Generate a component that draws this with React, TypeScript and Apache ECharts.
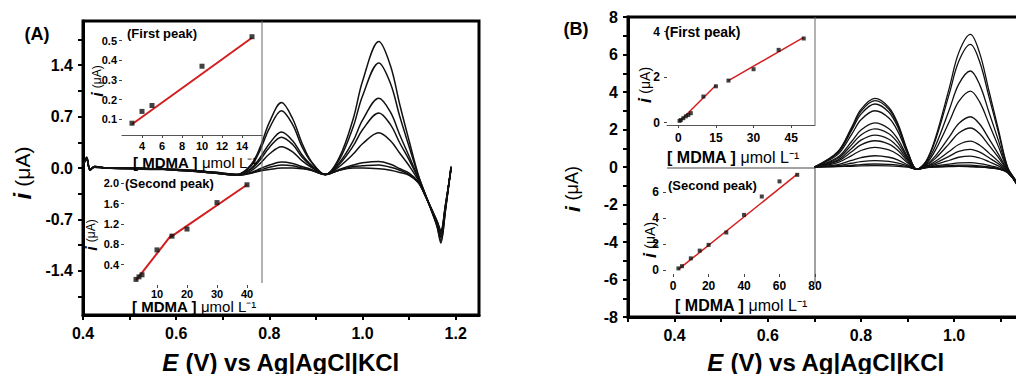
import React, { useEffect, useRef } from 'react';
import * as echarts from 'echarts';

const FONT = '"Liberation Sans", Arial, Helvetica, sans-serif';

// ---------- Panel A : main voltammograms ----------
const A_E = [0.40, 0.408, 0.415, 0.425, 0.45, 0.50, 0.55, 0.60, 0.65, 0.70, 0.73, 0.76, 0.78, 0.80, 0.826, 0.85, 0.87, 0.89, 0.92, 0.95, 0.98, 1.00, 1.035, 1.06, 1.08, 1.10, 1.12, 1.135, 1.15, 1.16, 1.168, 1.178, 1.19];
const A_I1 = [0.05, 0.15, -0.03, 0.02, 0.00, 0.00, -0.01, -0.02, -0.04, -0.07, -0.09, 0.04, 0.28, 0.62, 0.89, 0.67, 0.34, 0.09, -0.09, 0.14, 0.67, 1.18, 1.72, 1.39, 0.86, 0.37, -0.10, -0.36, -0.62, -0.80, -1.02, -0.58, 0.02];
const A_I2 = [0.05, 0.14, -0.03, 0.02, 0.00, 0.00, -0.01, -0.02, -0.04, -0.07, -0.09, 0.02, 0.24, 0.54, 0.78, 0.59, 0.29, 0.08, -0.09, 0.11, 0.56, 0.98, 1.43, 1.15, 0.70, 0.29, -0.11, -0.36, -0.61, -0.79, -0.99, -0.57, 0.02];
const A_I3 = [0.04, 0.14, -0.02, 0.02, 0.00, -0.01, -0.01, -0.02, -0.04, -0.07, -0.09, -0.01, 0.14, 0.33, 0.49, 0.37, 0.18, 0.04, -0.09, 0.07, 0.37, 0.65, 0.95, 0.76, 0.45, 0.16, -0.14, -0.37, -0.60, -0.77, -0.95, -0.55, 0.01];
const A_I4 = [0.04, 0.13, -0.03, 0.02, 0.00, -0.01, -0.02, -0.02, -0.04, -0.08, -0.09, -0.02, 0.11, 0.28, 0.42, 0.32, 0.15, 0.03, -0.09, 0.05, 0.30, 0.52, 0.75, 0.59, 0.34, 0.11, -0.15, -0.37, -0.60, -0.76, -0.93, -0.54, 0.00];
const A_I5 = [0.05, 0.13, -0.02, 0.02, 0.00, 0.00, -0.01, -0.02, -0.05, -0.08, -0.10, -0.04, 0.06, 0.19, 0.29, 0.22, 0.10, 0.01, -0.09, 0.02, 0.19, 0.33, 0.48, 0.37, 0.20, 0.03, -0.17, -0.38, -0.60, -0.75, -0.90, -0.53, 0.00];
const A_I6 = [0.05, 0.12, -0.02, 0.01, 0.00, 0.00, -0.01, -0.03, -0.05, -0.08, -0.10, -0.06, -0.01, 0.04, 0.08, 0.06, 0.02, -0.02, -0.09, -0.02, 0.04, 0.07, 0.09, 0.05, -0.01, -0.07, -0.19, -0.38, -0.60, -0.74, -0.88, -0.52, -0.01];
const A_I7 = [0.04, 0.12, -0.02, 0.01, 0.00, 0.00, -0.01, -0.03, -0.05, -0.08, -0.10, -0.07, -0.03, 0.01, 0.04, 0.03, 0.00, -0.03, -0.09, -0.03, 0.02, 0.03, 0.04, 0.01, -0.03, -0.09, -0.20, -0.38, -0.59, -0.73, -0.86, -0.50, -0.01];
const A_I8 = [0.04, 0.11, -0.02, 0.01, 0.00, -0.01, -0.01, -0.03, -0.05, -0.08, -0.10, -0.07, -0.04, -0.02, 0.00, 0.00, -0.01, -0.03, -0.09, -0.03, 0.00, 0.00, -0.01, -0.03, -0.06, -0.10, -0.20, -0.38, -0.58, -0.72, -0.85, -0.50, -0.02];
const A_CURVES = [A_I1, A_I2, A_I3, A_I4, A_I5, A_I6, A_I7, A_I8];
const A_XTICKS = [0.4, 0.5, 0.6, 0.7, 0.8, 0.9, 1.0, 1.1, 1.2];
const A_XLABELS = [0.4, 0.6, 0.8, 1.0, 1.2];
const A_YTICKS = [-1.75, -1.4, -1.05, -0.7, -0.35, 0, 0.35, 0.7, 1.05, 1.4, 1.75];
const A_YLABELS = [-1.4, -0.7, 0, 0.7, 1.4];

// Panel A insets
const A1_CONC = [3, 4, 5, 10, 15];
const A1_I = [0.08, 0.14, 0.17, 0.37, 0.52];
const A1_FIT = [[3, 0.075], [15, 0.515]];
const A1_XLABELS = [4, 6, 8, 10, 12, 14];
const A1_YLABELS = [0.1, 0.2, 0.3, 0.4, 0.5];

const A2_CONC = [3, 4, 5, 10, 15, 20, 30, 40];
const A2_I = [0.11, 0.16, 0.2, 0.69, 0.96, 1.1, 1.62, 1.97];
const A2_FIT1 = [[3, 0.09], [15, 1.0]];
const A2_FIT2 = [[14, 0.92], [40, 1.97]];
const A2_XLABELS = [10, 20, 30, 40];
const A2_YLABELS = [0.4, 0.8, 1.2, 1.6, 2.0];

// ---------- Panel B : main voltammograms ----------
const B_E = [0.70, 0.75, 0.78, 0.80, 0.83, 0.86, 0.88, 0.90, 0.92, 0.94, 0.96, 0.99, 1.01, 1.035, 1.055, 1.075, 1.095, 1.115, 1.135, 1.15];
const B_I1 = [0, 0.81, 2.12, 3.07, 3.66, 3.18, 2.27, 0.86, -0.12, 0.32, 1.56, 4.25, 6.10, 7.07, 6.06, 4.04, 2.01, -0.02, -0.85, -1.9];
const B_I2 = [0, 0.78, 2.05, 2.97, 3.54, 3.08, 2.19, 0.83, -0.12, 0.30, 1.44, 3.94, 5.64, 6.54, 5.60, 3.73, 1.85, -0.04, -0.86, -1.9];
const B_I3 = [0, 0.74, 1.95, 2.82, 3.36, 2.92, 2.08, 0.79, -0.12, 0.23, 1.13, 3.08, 4.42, 5.12, 4.38, 2.91, 1.42, -0.09, -0.87, -1.95];
const B_I4 = [0, 0.66, 1.74, 2.52, 3.00, 2.61, 1.86, 0.70, -0.12, 0.17, 0.90, 2.44, 3.50, 4.05, 3.46, 2.29, 1.10, -0.14, -0.88, -1.95];
const B_I5 = [0, 0.52, 1.36, 1.97, 2.35, 2.04, 1.46, 0.54, -0.12, 0.11, 0.59, 1.62, 2.32, 2.68, 2.28, 1.50, 0.69, -0.19, -0.89, -2.0];
const B_I6 = [0, 0.45, 1.18, 1.71, 2.03, 1.77, 1.26, 0.47, -0.12, 0.08, 0.46, 1.26, 1.81, 2.08, 1.77, 1.15, 0.51, -0.22, -0.9, -2.0];
const B_I7 = [0, 0.37, 0.99, 1.43, 1.70, 1.48, 1.05, 0.39, -0.12, 0.04, 0.31, 0.84, 1.20, 1.38, 1.16, 0.74, 0.30, -0.24, -0.9, -2.0];
const B_I8 = [0, 0.31, 0.81, 1.18, 1.40, 1.22, 0.87, 0.32, -0.12, 0.02, 0.21, 0.58, 0.83, 0.94, 0.79, 0.49, 0.17, -0.26, -0.92, -2.05];
const B_I9 = [0, 0.23, 0.61, 0.88, 1.05, 0.91, 0.65, 0.23, -0.12, 0.00, 0.13, 0.36, 0.52, 0.58, 0.48, 0.28, 0.06, -0.28, -0.93, -2.05];
const B_I10 = [0, 0.13, 0.35, 0.50, 0.60, 0.52, 0.37, 0.12, -0.12, -0.02, 0.06, 0.15, 0.22, 0.23, 0.18, 0.08, -0.04, -0.29, -0.94, -2.1];
const B_I11 = [0, 0.07, 0.20, 0.29, 0.34, 0.30, 0.21, 0.06, -0.12, -0.03, 0.03, 0.07, 0.10, 0.10, 0.06, 0.00, -0.08, -0.30, -0.95, -2.1];
const B_I12 = [0, 0.04, 0.09, 0.13, 0.16, 0.14, 0.10, 0.02, -0.12, -0.03, 0.01, 0.04, 0.05, 0.04, 0.01, -0.04, -0.10, -0.30, -0.95, -2.1];
const B_I13 = [0, 0.02, 0.04, 0.06, 0.07, 0.06, 0.04, -0.01, -0.12, -0.03, 0.00, 0.02, 0.03, 0.01, -0.01, -0.05, -0.11, -0.30, -0.96, -2.1];
const B_CURVES = [B_I1, B_I2, B_I3, B_I4, B_I5, B_I6, B_I7, B_I8, B_I9, B_I10, B_I11, B_I12, B_I13];
const B_XTICKS = [0.3, 0.4, 0.5, 0.6, 0.7, 0.8, 0.9, 1.0, 1.1];
const B_XLABELS = [0.4, 0.6, 0.8, 1.0];
const B_YTICKS = [-8, -7, -6, -5, -4, -3, -2, -1, 0, 1, 2, 3, 4, 5, 6, 7, 8];
const B_YLABELS = [-8, -6, -4, -2, 0, 2, 4, 6, 8];

// Panel B insets
const B1_CONC = [0.5, 1, 2, 3, 4, 5, 10, 15, 20, 30, 40, 50];
const B1_I = [0.08, 0.12, 0.2, 0.28, 0.34, 0.42, 1.15, 1.6, 1.85, 2.35, 3.2, 3.7];
const B1_FIT1 = [[0.5, 0.05], [15, 1.65]];
const B1_FIT2 = [[20, 1.85], [50, 3.75]];
const B1_XLABELS = [0, 15, 30, 45];
const B1_YLABELS = [0, 2, 4];

const B2_CONC = [3, 5, 10, 15, 20, 30, 40, 50, 60, 70];
const B2_I = [0.13, 0.3, 0.9, 1.49, 1.93, 2.88, 4.23, 5.64, 6.8, 7.3];
const B2_FIT = [[3, 0.05], [70, 7.35]];
const B2_XLABELS = [0, 20, 40, 60, 80];
const B2_YLABELS = [0, 2, 4, 6];

// ---------- layout ----------
const GA = { left: 83, top: 21, width: 396, height: 294 };
const GA1 = { left: 122, top: 21, width: 140, height: 114 };
const GA2 = { left: 124, top: 168, width: 138, height: 117 };
const GB = { left: 628, top: 17, width: 396, height: 300 };
const GB1 = { left: 667, top: 18, width: 148, height: 107 };
const GB2 = { left: 666, top: 167, width: 149, height: 107 };

const fix1 = (v: number) => v.toFixed(1);

function mainX(grid: number, min: number, max: number, ticks: number[], labels: number[], gap: number) {
  return {
    gridIndex: grid, type: 'value', min, max,
    axisLine: { show: true, onZero: false, lineStyle: { color: '#000', width: 3 } },
    axisTick: { show: true, inside: false, length: 5, lineStyle: { color: '#000', width: 2 }, customValues: ticks },
    axisLabel: { customValues: labels, formatter: fix1, margin: 10, fontSize: 16, fontWeight: 'bold', fontFamily: FONT, color: '#000' },
    splitLine: { show: false },
    name: '{i|E} (V) vs Ag|AgCl|KCl', nameLocation: 'middle', nameGap: gap,
    nameTextStyle: {
      fontSize: 24, fontWeight: 'bold', fontFamily: FONT, color: '#000',
      rich: { i: { fontSize: 24, fontWeight: 'bold', fontStyle: 'italic', fontFamily: FONT, color: '#000' } },
    },
  };
}
function mainY(grid: number, min: number, max: number, ticks: number[], labels: number[], fmt: any) {
  return {
    gridIndex: grid, type: 'value', min, max,
    axisLine: { show: true, onZero: false, lineStyle: { color: '#000', width: 3 } },
    axisTick: { show: true, inside: false, length: 5, lineStyle: { color: '#000', width: 2 }, customValues: ticks },
    axisLabel: { customValues: labels, formatter: fmt, margin: 10, fontSize: 16, fontWeight: 'bold', fontFamily: FONT, color: '#000' },
    splitLine: { show: false },
  };
}
function insetAxis(grid: number, min: number, max: number, labels: number[], opts: any) {
  return {
    gridIndex: grid, type: 'value', min, max,
    axisLine: { show: !!opts.line, onZero: false, lineStyle: { color: '#555', width: 1 } },
    axisTick: { show: true, inside: false, length: 3, lineStyle: { color: '#444', width: 1 }, customValues: labels },
    axisLabel: { customValues: labels, formatter: opts.fmt || ((v: number) => String(v)), margin: opts.margin, fontSize: opts.size, fontWeight: 'bold', fontFamily: FONT, color: '#000' },
    splitLine: { show: false },
  };
}

function lineSeries(x: number, y: number, E: number[], vals: number[], width: number) {
  return {
    type: 'line', xAxisIndex: x, yAxisIndex: y, data: E.map((e, i) => [e, vals[i]]),
    symbol: 'none', smooth: 0.35, silent: true, lineStyle: { color: '#111', width }, z: 2,
  };
}
function fitSeries(x: number, y: number, pts: number[][], width: number) {
  return { type: 'line', xAxisIndex: x, yAxisIndex: y, data: pts, symbol: 'none', silent: true, lineStyle: { color: '#d21e1e', width }, z: 3 };
}
function dotSeries(x: number, y: number, conc: number[], vals: number[], size: number) {
  return { type: 'scatter', xAxisIndex: x, yAxisIndex: y, data: conc.map((c, i) => [c, vals[i]]), symbol: 'rect', symbolSize: size, silent: true, itemStyle: { color: '#111' }, z: 4 };
}

function txt(x: number, y: number, text: string, size: number, align: string, rich?: any, rotation?: number, weight = 'bold') {
  return {
    type: 'text', x, y, rotation: rotation || 0, silent: true, z: 10,
    style: {
      text, fill: '#000', fontSize: size, fontWeight: weight, fontFamily: FONT,
      textAlign: align, align, textVerticalAlign: 'middle', verticalAlign: 'middle', rich,
    },
  };
}
const concRich = (size: number) => ({
  b: { fontSize: size, fontWeight: 'bold', fontFamily: FONT, fill: '#000', color: '#000' },
  n: { fontSize: size, fontWeight: 'normal', fontFamily: FONT, fill: '#000', color: '#000' },
});
const iRich = (iSize: number, uSize: number) => ({
  i: { fontSize: iSize, fontWeight: 'bold', fontStyle: 'italic', fontFamily: FONT, fill: '#000', color: '#000' },
  n: { fontSize: uSize, fontWeight: 'normal', fontFamily: FONT, fill: '#000', color: '#000' },
});
const CONC_TEXT = '{b|[ MDMA ]} {n|\u03bcmol L\u207b\u00b9}';
const I_TEXT = '{i|i} {n|(\u03bcA)}';

function vline(x: number, y1: number, y2: number, color = '#666') {
  return { type: 'line', silent: true, z: 5, shape: { x1: x, y1, x2: x, y2 }, style: { stroke: color, lineWidth: 1 } };
}
function hline(y: number, x1: number, x2: number, color = '#666') {
  return { type: 'line', silent: true, z: 5, shape: { x1, y1: y, x2, y2: y }, style: { stroke: color, lineWidth: 1 } };
}

const gridOf = (g: any, main: boolean) => ({
  ...g, show: main, borderColor: '#000', borderWidth: main ? 3 : 0, containLabel: false, outerBoundsMode: 'none',
});

export default function App() {
  const ref = useRef<HTMLDivElement>(null);
  useEffect(() => {
    const chart = echarts.init(ref.current!, null, { renderer: 'svg' });
    const option: any = {
      animation: false,
      backgroundColor: '#fff',
      grid: [
        gridOf(GA, true),
        gridOf(GA1, false),
        gridOf(GA2, false),
        gridOf(GB, true),
        gridOf(GB1, false),
        gridOf(GB2, false),
      ],
      xAxis: [
        mainX(0, 0.4, 1.25, A_XTICKS, A_XLABELS, 35),
        insetAxis(1, 2, 16, A1_XLABELS, { line: true, margin: 5, size: 11 }),
        insetAxis(2, -1, 45, A2_XLABELS, { line: false, margin: 3, size: 11 }),
        mainX(3, 0.3, 1.15, B_XTICKS, B_XLABELS, 33),
        insetAxis(4, -4.5, 54.5, B1_XLABELS, { line: true, margin: 7, size: 12 }),
        insetAxis(5, -4, 80, B2_XLABELS, { line: false, margin: 6, size: 12 }),
      ],
      yAxis: [
        mainY(0, -2, 2, A_YTICKS, A_YLABELS, fix1),
        insetAxis(1, 0.02, 0.6, A1_YLABELS, { line: false, margin: 5, size: 11, fmt: fix1 }),
        insetAxis(2, 0, 2.3, A2_YLABELS, { line: false, margin: 5, size: 11, fmt: fix1 }),
        mainY(3, -8, 8, B_YTICKS, B_YLABELS, (v: number) => String(v)),
        insetAxis(4, -0.1, 4.6, B1_YLABELS, { line: false, margin: 7, size: 12 }),
        insetAxis(5, -0.3, 7.9, B2_YLABELS, { line: false, margin: 7, size: 12 }),
      ],
      series: [
        ...A_CURVES.map((c) => lineSeries(0, 0, A_E, c, 1.5)),
        fitSeries(1, 1, A1_FIT, 2),
        dotSeries(1, 1, A1_CONC, A1_I, 5),
        fitSeries(2, 2, A2_FIT1, 2),
        fitSeries(2, 2, A2_FIT2, 2),
        dotSeries(2, 2, A2_CONC, A2_I, 5),
        ...B_CURVES.map((c) => lineSeries(3, 3, B_E, c, 1.3)),
        fitSeries(4, 4, B1_FIT1, 1.5),
        fitSeries(4, 4, B1_FIT2, 1.5),
        dotSeries(4, 4, B1_CONC, B1_I, 4),
        fitSeries(5, 5, B2_FIT, 1.5),
        dotSeries(5, 5, B2_CONC, B2_I, 4),
      ],
      graphic: [
        txt(37, 34, '(A)', 18, 'center'),
        txt(576, 29, '(B)', 18, 'center'),
        txt(127, 33, '(First peak)', 13, 'left'),
        txt(125, 183, '(Second peak)', 13, 'left'),
        txt(665, 32, '(First peak)', 14, 'left'),
        txt(668, 185, '(Second peak)', 13, 'left'),
        txt(195, 162, CONC_TEXT, 15, 'center', concRich(15)),
        txt(194, 306, CONC_TEXT, 15, 'center', concRich(15)),
        txt(733, 157, CONC_TEXT, 16, 'center', concRich(16)),
        txt(741, 305, CONC_TEXT, 16, 'center', concRich(16)),
        txt(97, 81, I_TEXT, 14, 'center', iRich(16, 12), Math.PI / 2),
        txt(91, 235, I_TEXT, 14, 'center', iRich(16, 12), Math.PI / 2),
        txt(645, 85, I_TEXT, 16, 'center', iRich(18, 14), Math.PI / 2),
        txt(650, 240, I_TEXT, 16, 'center', iRich(18, 14), Math.PI / 2),
        txt(22, 173, I_TEXT, 22, 'center', iRich(24, 21), Math.PI / 2),
        txt(572, 189, I_TEXT, 20, 'center', iRich(21, 18), Math.PI / 2),
        vline(GA1.left + GA1.width, GA.top, GA2.top + GA2.height - 2),
        vline(GB1.left + GB1.width, GB.top, GB1.top + GB1.height),
        hline(GB2.top + 1, GB2.left + 1, GB2.left + GB2.width, '#444'),
        vline(GB2.left + GB2.width, GB2.top + 1, 283, '#444'),
      ],
    };
    chart.setOption(option);
    return () => chart.dispose();
  }, []);
  return <div ref={ref} style={{ position: 'fixed', left: 0, top: 0, width: 1016, height: 374, background: '#fff' }} />;
}
